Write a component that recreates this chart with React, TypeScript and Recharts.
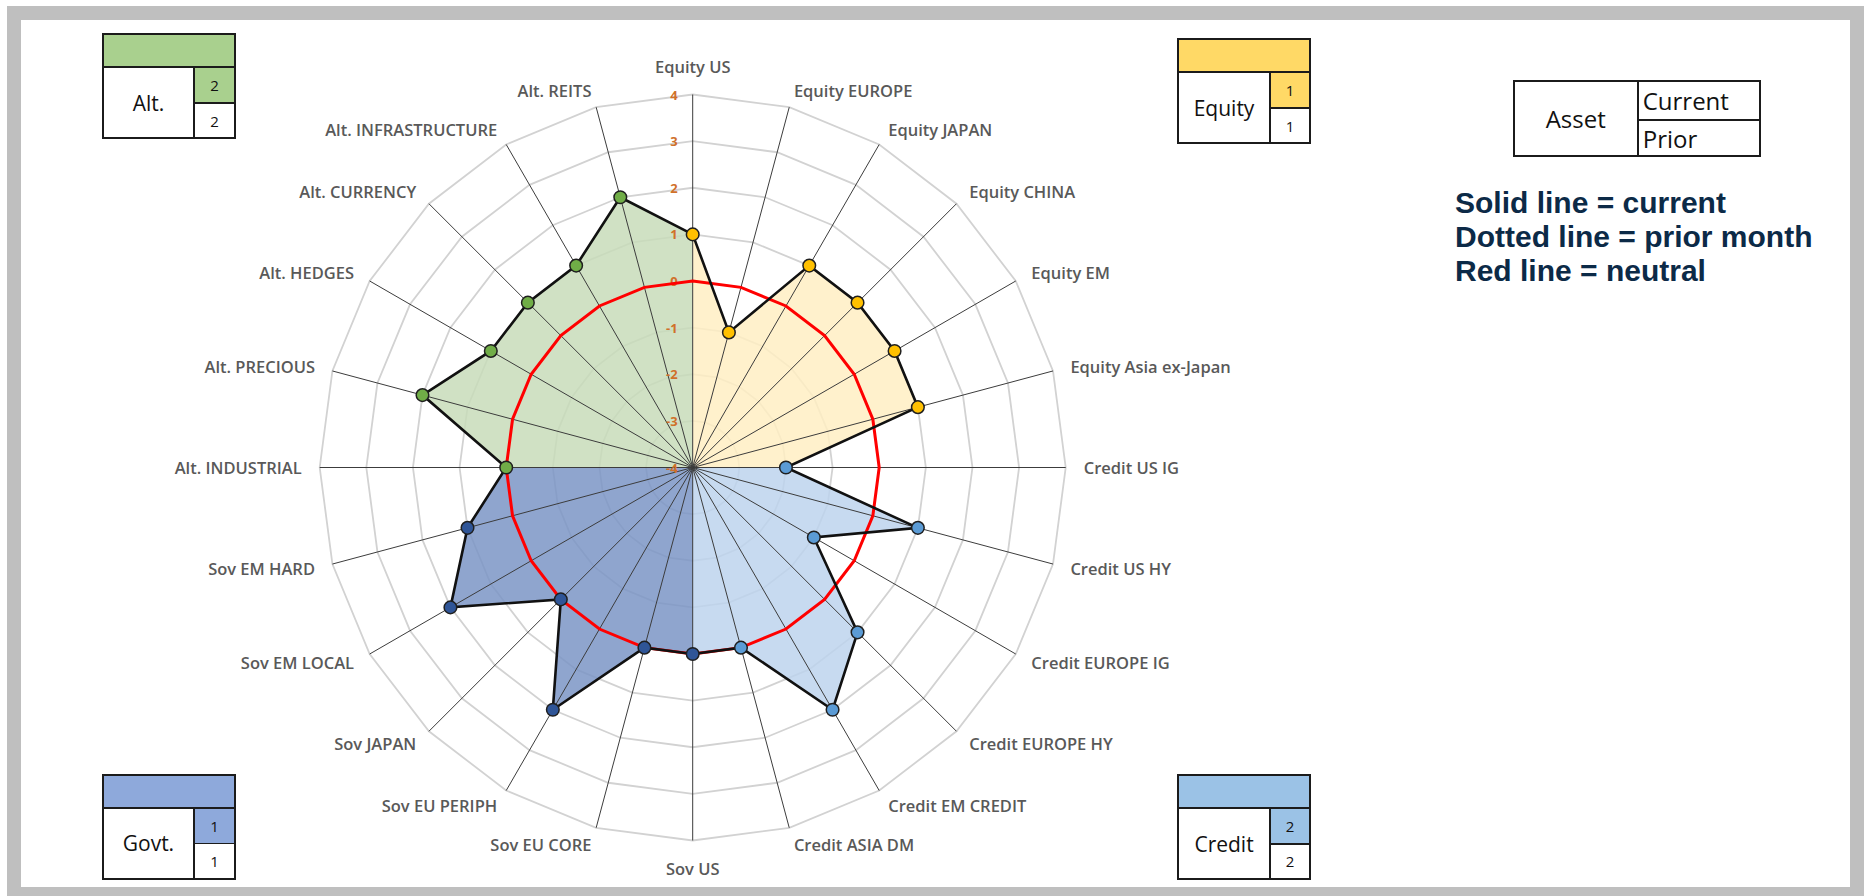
import { PolarAngleAxis, PolarGrid, PolarRadiusAxis, Radar, RadarChart } from 'recharts'

const categories = [
  'Equity US', 'Equity EUROPE', 'Equity JAPAN', 'Equity CHINA', 'Equity EM', 'Equity Asia ex-Japan',
  'Credit US IG', 'Credit US HY', 'Credit EUROPE IG', 'Credit EUROPE HY', 'Credit EM CREDIT', 'Credit ASIA DM',
  'Sov US', 'Sov EU CORE', 'Sov EU PERIPH', 'Sov JAPAN', 'Sov EM LOCAL', 'Sov EM HARD',
  'Alt. INDUSTRIAL', 'Alt. PRECIOUS', 'Alt. HEDGES', 'Alt. CURRENCY', 'Alt. INFRASTRUCTURE', 'Alt. REITS',
]
const currentScores = [1, -1, 1, 1, 1, 1, -2, 1, -1, 1, 2, 0, 0, 0, 2, 0, 2, 1, 0, 2, 1, 1, 1, 2]
const neutralScores = [0, 0, 0, 0, 0, 0, 0, 0, 0, 0, 0, 0, 0, 0, 0, 0, 0, 0, 0, 0, 0, 0, 0, 0]
const groupOf = [0, 0, 0, 0, 0, 0, 1, 1, 1, 1, 1, 1, 2, 2, 2, 2, 2, 2, 3, 3, 3, 3, 3, 3]
const groupNames = ['Equity', 'Credit', 'Govt.', 'Alt.']
const groupCurrent = [1, 2, 1, 2]
const groupPrior = [1, 2, 1, 2]
const radiusTicks = [-4, -3, -2, -1, 0, 1, 2, 3, 4]

const AXIS_MIN = -4
const headerColors = ['#FFD966', '#9BC2E6', '#8EA9DB', '#A9D08E']
const fillColors = ['#FFEEC3', '#BDD3ED', '#7B95C6', '#C8DCBA']
const dotColors = ['#FFC000', '#5B9BD5', '#2F5597', '#70AD47']

// each quadrant fill = its group's scores plus the first point of the next group, rest collapsed to the centre
const n = categories.length
const inFill = (g: number, i: number) =>
  groupOf[i] === g || (groupOf[i] === (g + 1) % 4 && groupOf[(i - 1 + n) % n] === g)

const data = categories.map((name, i) => ({
  name,
  current: currentScores[i],
  neutral: neutralScores[i],
  fill0: inFill(0, i) ? currentScores[i] : AXIS_MIN,
  fill1: inFill(1, i) ? currentScores[i] : AXIS_MIN,
  fill2: inFill(2, i) ? currentScores[i] : AXIS_MIN,
  fill3: inFill(3, i) ? currentScores[i] : AXIS_MIN,
}))

const AngleTick = (props: any) => {
  const { x, y, payload } = props
  const rad = (payload.coordinate * Math.PI) / 180
  const dx = Math.cos(rad)
  const dy = -Math.sin(rad)
  const vx = x - 8 * dx
  const vy = y - 8 * dy
  const anchor = dx > 0.02 ? 'start' : dx < -0.02 ? 'end' : 'middle'
  const tx = vx + 18 * dx
  const ty = vy + 17 * dy + (anchor === 'middle' ? 11 * dy : 0)
  return (
    <text x={tx} y={ty} textAnchor={anchor} dominantBaseline="central" fill="#595959"
      fontFamily="'Open Sans', sans-serif" fontWeight={600} fontSize={16.5}>
      {payload.value}
    </text>
  )
}

const RadiusTick = (props: any) => {
  const { x, y, payload } = props
  return (
    <text x={x - 15} y={y} textAnchor="end" dominantBaseline="central" fill="#D0702A"
      fontFamily="'Open Sans', sans-serif" fontWeight={700} fontSize={13}>
      {payload.value}
    </text>
  )
}

const renderDot = (props: any) => {
  const { cx, cy, index } = props
  const g = groupOf[index]
  return <circle key={`dot-${index}`} cx={cx} cy={cy} r={6.3} fill={dotColors[g]} stroke="#1f1f1f" strokeWidth={1.5} />
}

const BORDER = '2px solid #1b1b1b'

function GroupBox({ left, top, g }: { left: number; top: number; g: number }) {
  const cell = { position: 'absolute' as const, display: 'flex', alignItems: 'center', justifyContent: 'center' }
  return (
    <div style={{ position: 'absolute', left, top, width: 134, height: 106, border: BORDER, boxSizing: 'border-box', background: '#fff' }}>
      <div style={{ position: 'absolute', left: 0, top: 0, width: 130, height: 31, background: headerColors[g] }} />
      <div style={{ position: 'absolute', left: 0, top: 31, width: 130, height: 2, background: '#1b1b1b' }} />
      <div style={{ ...cell, left: 0, top: 33, width: 89.5, height: 69, fontSize: 21 }}>{groupNames[g]}</div>
      <div style={{ position: 'absolute', left: 89.5, top: 33, width: 2, height: 69, background: '#1b1b1b' }} />
      <div style={{ ...cell, left: 91.5, top: 33, width: 38.5, height: 34, background: headerColors[g], fontSize: 15 }}>{groupCurrent[g]}</div>
      <div style={{ position: 'absolute', left: 91.5, top: 67, width: 38.5, height: 1.5, background: '#1b1b1b' }} />
      <div style={{ ...cell, left: 91.5, top: 68.5, width: 38.5, height: 33.5, fontSize: 15 }}>{groupPrior[g]}</div>
    </div>
  )
}

export default function App() {
  const z = (v: number) => ({ zIndex: v } as any)
  return (
    <div style={{ position: 'absolute', left: 0, top: 0, width: 1864, height: 896, overflow: 'hidden', background: '#fff', fontFamily: "'Open Sans', sans-serif", color: '#111' }}>
      <div style={{ position: 'absolute', left: 0, top: 0 }}>
        <RadarChart width={1864} height={896} data={data} margin={{ top: 0, right: 0, bottom: 0, left: 0 }}
          cx={692.7} cy={467.5} outerRadius={373} startAngle={90} endAngle={-270}>
          <PolarGrid gridType="polygon" radialLines={false} stroke="#D2D2D2" strokeWidth={1.8} />
          <PolarAngleAxis dataKey="name" tick={AngleTick} axisLine={false} tickLine={false} tickSize={8} />
          {[0, 1, 2, 3].map((g) => (
            <Radar key={`fill${g}`} dataKey={`fill${g}`} stroke="none" fill={fillColors[g]} fillOpacity={0.85}
              dot={false} isAnimationActive={false} {...z(100)} />
          ))}
          <PolarGrid gridType="polygon" polarRadius={[0]} stroke="#3C3C3C" strokeWidth={1} {...z(150)} />
          <PolarRadiusAxis angle={90} type="number" domain={[-4, 4]} ticks={radiusTicks as any} tickCount={9}
            axisLine={false} tickLine={false} tick={RadiusTick} {...z(160)} />
          <Radar dataKey="neutral" stroke="#FF0000" strokeWidth={3} fill="none" fillOpacity={0} dot={false}
            isAnimationActive={false} {...z(200)} />
          <Radar dataKey="current" stroke="#111111" strokeWidth={2.6} fill="none" fillOpacity={0} dot={renderDot}
            isAnimationActive={false} {...z(300)} />
        </RadarChart>
      </div>

      <div style={{ position: 'absolute', left: 7, top: 6, width: 1857, height: 895, border: '14px solid #BFBFBF', boxSizing: 'border-box', pointerEvents: 'none' }} />

      <GroupBox left={101.7} top={33.3} g={3} />
      <GroupBox left={1177.3} top={38.3} g={0} />
      <GroupBox left={101.7} top={773.5} g={2} />
      <GroupBox left={1177.3} top={774} g={1} />

      <div style={{ position: 'absolute', left: 1512.7, top: 80, width: 248, height: 77.3, border: BORDER, boxSizing: 'border-box', fontSize: 24 }}>
        <div style={{ position: 'absolute', left: 0, top: 0, width: 122, height: 73.3, display: 'flex', alignItems: 'center', justifyContent: 'center' }}>Asset</div>
        <div style={{ position: 'absolute', left: 122, top: 0, width: 2, height: 73.3, background: '#1b1b1b' }} />
        <div style={{ position: 'absolute', left: 128, top: 0, height: 37, display: 'flex', alignItems: 'center' }}>Current</div>
        <div style={{ position: 'absolute', left: 124, top: 37.3, width: 120, height: 2, background: '#1b1b1b' }} />
        <div style={{ position: 'absolute', left: 128, top: 39.3, height: 34, display: 'flex', alignItems: 'center' }}>Prior</div>
      </div>

      <div style={{ position: 'absolute', left: 1455, top: 186, fontFamily: "'Liberation Sans', Arial, sans-serif", fontWeight: 700, fontSize: 30, lineHeight: '34px', color: '#0C2A47', whiteSpace: 'nowrap' }}>
        <div>Solid line = current</div>
        <div>Dotted line = prior month</div>
        <div>Red line = neutral</div>
      </div>
    </div>
  )
}
